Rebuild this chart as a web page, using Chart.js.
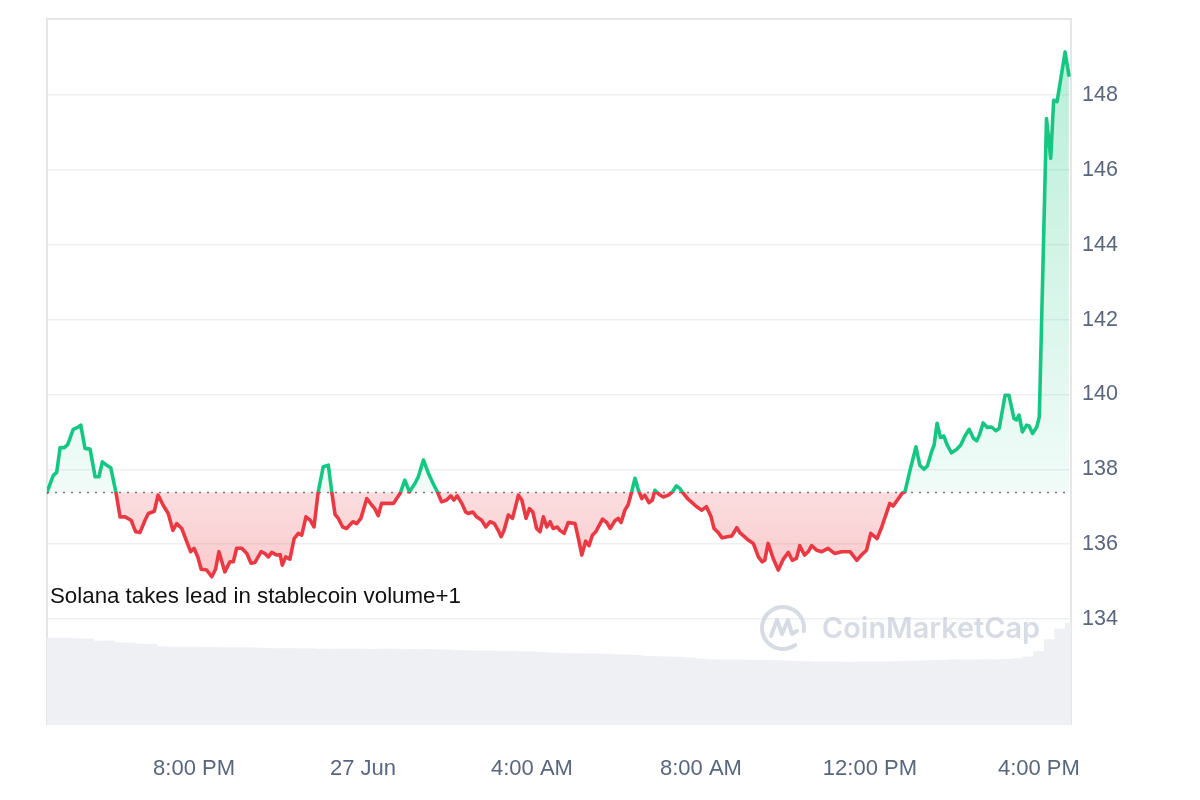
<!DOCTYPE html>
<html>
<head>
<meta charset="utf-8">
<script src="https://cdn.jsdelivr.net/npm/chart.js@4.4.1/dist/chart.umd.min.js"></script>
<style>
  html, body { margin: 0; padding: 0; background: #fff; }
  #wrap { position: relative; width: 1200px; height: 800px; }
</style>
</head>
<body>
<div id="wrap"><canvas id="chart" width="1200" height="800"></canvas></div>
<script>
// SOL price, hours counted from 00:00 on 26 Jun
const times = [
  16.52, 16.67, 16.75, 16.83, 16.93, 17.01, 17.14, 17.26, 17.32, 17.42, 17.54, 17.66, 17.75, 17.83, 17.93, 18.03,
  18.15, 18.25, 18.37, 18.51, 18.62, 18.72, 18.84, 18.92, 19.06, 19.15, 19.27, 19.39, 19.50, 19.59, 19.71, 19.83,
  19.92, 20.00, 20.09, 20.17, 20.30, 20.42, 20.51, 20.59, 20.66, 20.73, 20.85, 20.93, 21.01, 21.13, 21.25, 21.35,
  21.44, 21.59, 21.68, 21.76, 21.84, 21.96, 22.04, 22.09, 22.17, 22.27, 22.37, 22.47, 22.55, 22.65, 22.75, 22.84,
  22.94, 23.06, 23.18, 23.26, 23.34, 23.41, 23.52, 23.61, 23.76, 23.85, 23.95, 24.09, 24.21, 24.28, 24.36, 24.44,
  24.56, 24.72, 24.88, 24.99, 25.10, 25.23, 25.31, 25.43, 25.55, 25.66, 25.76, 25.86, 25.98, 26.08, 26.15, 26.23,
  26.34, 26.43, 26.49, 26.60, 26.69, 26.81, 26.91, 27.01, 27.11, 27.20, 27.27, 27.34, 27.44, 27.54, 27.68, 27.76,
  27.86, 27.94, 28.02, 28.11, 28.19, 28.27, 28.35, 28.43, 28.50, 28.60, 28.66, 28.76, 28.86, 29.02, 29.10, 29.18,
  29.27, 29.35, 29.43, 29.51, 29.67, 29.77, 29.85, 29.96, 30.04, 30.11, 30.20, 30.28, 30.36, 30.44, 30.52, 30.60,
  30.67, 30.77, 30.85, 30.91, 31.01, 31.11, 31.23, 31.34, 31.42, 31.50, 31.58, 31.70, 31.79, 31.90, 32.02, 32.13,
  32.24, 32.31, 32.41, 32.50, 32.63, 32.73, 32.85, 32.92, 33.03, 33.12, 33.24, 33.36, 33.45, 33.51, 33.59, 33.71,
  33.83, 33.95, 34.07, 34.16, 34.26, 34.34, 34.45, 34.54, 34.62, 34.74, 34.86, 35.01, 35.17, 35.33, 35.53, 35.69,
  35.80, 35.92, 36.02, 36.17, 36.28, 36.47, 36.55, 36.77, 36.83, 36.95, 37.09, 37.18, 37.28, 37.36, 37.46, 37.52,
  37.59, 37.67, 37.75, 37.83, 37.93, 38.05, 38.15, 38.25, 38.35, 38.45, 38.53, 38.60, 38.68, 38.78, 38.88, 38.98,
  39.06, 39.20, 39.29, 39.41, 39.47, 39.53, 39.61, 39.71, 39.77, 39.85, 39.95, 40.01, 40.18, 40.28, 40.35, 40.43,
  40.62, 40.71
];
const prices = [
  137.39, 137.84, 137.92, 138.58, 138.58, 138.66, 139.07, 139.13, 139.18, 138.56, 138.54, 137.80, 137.80, 138.20, 138.11, 138.04,
  137.40, 136.73, 136.73, 136.64, 136.33, 136.31, 136.64, 136.82, 136.88, 137.31, 137.04, 136.82, 136.37, 136.55, 136.42, 136.06,
  135.80, 135.89, 135.66, 135.33, 135.31, 135.13, 135.33, 135.80, 135.53, 135.26, 135.53, 135.53, 135.89, 135.89, 135.75, 135.49,
  135.51, 135.80, 135.75, 135.66, 135.78, 135.71, 135.72, 135.44, 135.66, 135.60, 136.15, 136.29, 136.24, 136.73, 136.64, 136.46,
  137.40, 138.07, 138.11, 137.40, 136.79, 136.70, 136.46, 136.42, 136.60, 136.55, 136.69, 137.22, 137.04, 136.95, 136.76, 137.09,
  137.09, 137.09, 137.36, 137.71, 137.40, 137.62, 137.80, 138.25, 137.89, 137.62, 137.40, 137.13, 137.18, 137.29, 137.18, 137.29,
  137.09, 136.86, 136.82, 136.86, 136.73, 136.64, 136.46, 136.60, 136.55, 136.37, 136.20, 136.37, 136.78, 136.69, 137.31, 137.18,
  136.69, 136.95, 136.86, 136.42, 136.33, 136.73, 136.46, 136.60, 136.42, 136.46, 136.37, 136.29, 136.58, 136.55, 136.15, 135.71,
  136.08, 135.96, 136.24, 136.33, 136.67, 136.58, 136.42, 136.62, 136.69, 136.58, 136.91, 137.06, 137.40, 137.76, 137.44, 137.22,
  137.31, 137.11, 137.18, 137.44, 137.33, 137.26, 137.31, 137.42, 137.56, 137.49, 137.36, 137.20, 137.11, 137.00, 136.91, 137.00,
  136.73, 136.42, 136.31, 136.17, 136.20, 136.22, 136.44, 136.31, 136.20, 136.11, 136.02, 135.66, 135.53, 135.57, 136.02, 135.62,
  135.31, 135.60, 135.78, 135.57, 135.62, 135.96, 135.71, 135.80, 135.96, 135.84, 135.80, 135.89, 135.75, 135.80, 135.80, 135.57,
  135.71, 135.84, 136.29, 136.15, 136.46, 137.09, 137.02, 137.37, 137.40, 137.98, 138.60, 138.11, 138.00, 138.09, 138.47, 138.65,
  139.23, 138.85, 138.89, 138.65, 138.44, 138.53, 138.65, 138.89, 139.07, 138.83, 138.76, 138.94, 139.24, 139.12, 139.13, 139.03,
  139.09, 139.98, 139.98, 139.36, 139.32, 139.45, 139.00, 139.18, 139.16, 138.96, 139.13, 139.40, 147.37, 146.31, 147.86, 147.82,
  149.15, 148.53
];
// volume (bn USD), one bar every 15 min starting 16:30
const volStart = 16.5;
const volStep = 0.25;
const volumes = [
  2.90, 2.90, 2.90, 2.88, 2.87, 2.80, 2.80, 2.74, 2.73, 2.70, 2.69, 2.61, 2.60, 2.60, 2.60, 2.59,
  2.59, 2.58, 2.58, 2.58, 2.57, 2.56, 2.55, 2.55, 2.54, 2.54, 2.53, 2.53, 2.53, 2.53, 2.53, 2.52,
  2.53, 2.53, 2.52, 2.52, 2.52, 2.51, 2.50, 2.48, 2.47, 2.47, 2.47, 2.46, 2.46, 2.45, 2.44, 2.42,
  2.40, 2.39, 2.38, 2.37, 2.37, 2.36, 2.35, 2.34, 2.32, 2.29, 2.28, 2.27, 2.26, 2.24, 2.20, 2.18,
  2.17, 2.17, 2.17, 2.16, 2.16, 2.15, 2.14, 2.12, 2.11, 2.10, 2.10, 2.10, 2.09, 2.10, 2.10, 2.10,
  2.11, 2.12, 2.13, 2.14, 2.15, 2.16, 2.17, 2.17, 2.17, 2.18, 2.18, 2.19, 2.21, 2.27, 2.45, 2.85,
  3.20, 3.40
];
const tickHours = [20, 24, 28, 32, 36, 40];
const tickLabels = ['8:00 PM', '27 Jun', '4:00 AM', '8:00 AM', '12:00 PM', '4:00 PM'];
const priceTicks = [134, 136, 138, 140, 142, 144, 146, 148];
const basePrice = 137.39;
const headline = 'Solana takes lead in stablecoin volume+1';

const GREEN = '#16c784';
const RED = '#ea3943';
const FONT = '"Liberation Sans", Arial, Helvetica, sans-serif';

// gradient with a hard break at the opening price
function splitColor(chart, stopsAbove, stopsBelow) {
  const { ctx, chartArea, scales } = chart;
  if (!chartArea) return GREEN;
  const h = chartArea.bottom - chartArea.top;
  const f = Math.min(1, Math.max(0, (scales.y.getPixelForValue(basePrice) - chartArea.top) / h));
  const g = ctx.createLinearGradient(0, chartArea.top, 0, chartArea.bottom);
  g.addColorStop(0, stopsAbove[0]);
  g.addColorStop(f, stopsAbove[1]);
  g.addColorStop(f, stopsBelow[0]);
  const f2 = Math.min(1, (scales.y.getPixelForValue(135) - chartArea.top) / h);
  g.addColorStop(Math.max(f, f2), stopsBelow[1]);
  g.addColorStop(1, stopsBelow[1]);
  return g;
}

const decor = {
  id: 'decor',
  beforeDatasetsDraw(chart) {
    const { ctx, chartArea: a, scales } = chart;
    ctx.save();
    // frame
    ctx.strokeStyle = '#e4e6ea';
    ctx.lineWidth = 2;
    ctx.beginPath();
    ctx.moveTo(a.left, a.bottom);
    ctx.lineTo(a.left, a.top);
    ctx.lineTo(a.right, a.top);
    ctx.lineTo(a.right, a.bottom);
    ctx.stroke();
    // dotted opening price
    const yb = Math.round(scales.y.getPixelForValue(basePrice)) + 0.5;
    ctx.setLineDash([2, 6]);
    ctx.strokeStyle = '#6f7787';
    ctx.lineWidth = 1.5;
    ctx.beginPath();
    ctx.moveTo(a.left, yb);
    ctx.lineTo(a.right, yb);
    ctx.stroke();
    ctx.restore();
  },
  afterDatasetsDraw(chart) {
    const { ctx, chartArea: a } = chart;
    ctx.save();
    // headline
    ctx.fillStyle = '#111';
    ctx.textBaseline = 'middle';
    ctx.font = '20px ' + FONT;
    let w = ctx.measureText(headline).width;
    ctx.font = (20 * 411 / w).toFixed(2) + 'px ' + FONT;
    ctx.fillText(headline, a.left + 3, 597);

    // watermark
    ctx.globalAlpha = 0.75;
    ctx.strokeStyle = '#c9cfd9';
    ctx.fillStyle = '#c9cfd9';
    ctx.lineWidth = 4;
    ctx.lineCap = 'round';
    ctx.lineJoin = 'round';
    const cx = 783, cy = 628, r = 21;
    ctx.beginPath();
    ctx.arc(cx, cy, r, 0.3 * Math.PI, 2.05 * Math.PI);
    ctx.stroke();
    ctx.beginPath();
    ctx.moveTo(cx - 12, cy + 8);
    ctx.lineTo(cx - 6, cy - 8);
    ctx.lineTo(cx - 1, cy + 6);
    ctx.lineTo(cx + 5, cy - 8);
    ctx.lineTo(cx + 9, cy + 6);
    ctx.lineTo(cx + 14, cy + 3);
    ctx.stroke();
    ctx.font = '600 30px Inter, "Noto Sans", sans-serif';
    w = ctx.measureText('CoinMarketCap').width;
    ctx.font = '600 ' + (30 * 218 / w).toFixed(2) + 'px Inter, "Noto Sans", sans-serif';
    ctx.textBaseline = 'middle';
    ctx.fillText('CoinMarketCap', 822, 629);
    ctx.restore();
  }
};

const ctx = document.getElementById('chart').getContext('2d');
new Chart(ctx, {
  type: 'line',
  data: {
    datasets: [
      {
        type: 'line',
        label: 'SOL',
        data: times.map((t, i) => ({ x: t, y: prices[i] })),
        yAxisID: 'y',
        borderWidth: 3.6,
        tension: 0,
        pointRadius: 0,
        borderJoinStyle: 'round',
        borderCapStyle: 'round',
        borderColor: c => splitColor(c.chart, [GREEN, GREEN], [RED, RED]),
        backgroundColor: c => splitColor(c.chart,
          ['rgba(22,199,132,0.32)', 'rgba(22,199,132,0.06)'],
          ['rgba(234,57,67,0.17)', 'rgba(234,57,67,0.27)']),
        fill: { target: { value: basePrice } },
        order: 1
      },
      {
        type: 'bar',
        label: 'Volume',
        data: volumes.map((v, i) => ({ x: volStart + i * volStep, y: v })),
        yAxisID: 'y2',
        backgroundColor: '#eef0f4',
        borderWidth: 0,
        barPercentage: 1,
        categoryPercentage: 1,
        order: 2
      }
    ]
  },
  options: {
    responsive: false,
    animation: false,
    devicePixelRatio: 1,
    layout: { padding: { left: 47, top: 19, right: 0, bottom: 0 } },
    plugins: { legend: { display: false }, tooltip: { enabled: false } },
    scales: {
      x: {
        type: 'linear',
        min: 16.52,
        max: 40.76,
        offset: false,
        afterBuildTicks: s => { s.ticks = tickHours.map(v => ({ value: v })); },
        afterFit: s => { s.height = 75; s.paddingLeft = 0; s.paddingRight = 0; s.paddingTop = 0; s.paddingBottom = 0; },
        ticks: {
          autoSkip: false,
          maxRotation: 0,
          padding: 31,
          color: '#58667e',
          font: { family: FONT, size: 22 },
          callback: v => tickLabels[tickHours.indexOf(v)]
        },
        grid: { display: false, drawTicks: false },
        border: { display: false }
      },
      y: {
        position: 'right',
        min: 131.17,
        max: 150.03,
        afterBuildTicks: s => { s.ticks = priceTicks.map(v => ({ value: v })); },
        afterFit: s => { s.width = 129; s.paddingTop = 0; s.paddingBottom = 0; s.paddingLeft = 0; s.paddingRight = 0; },
        ticks: {
          padding: 11,
          color: '#58667e',
          font: { family: FONT, size: 21.5 },
          callback: v => String(v)
        },
        grid: { color: '#edf0f3', lineWidth: 1.5, drawTicks: false },
        border: { display: false }
      },
      y2: {
        display: false,
        position: 'left',
        min: 0,
        max: 23.53
      }
    }
  },
  plugins: [decor]
});
</script>
</body>
</html>
